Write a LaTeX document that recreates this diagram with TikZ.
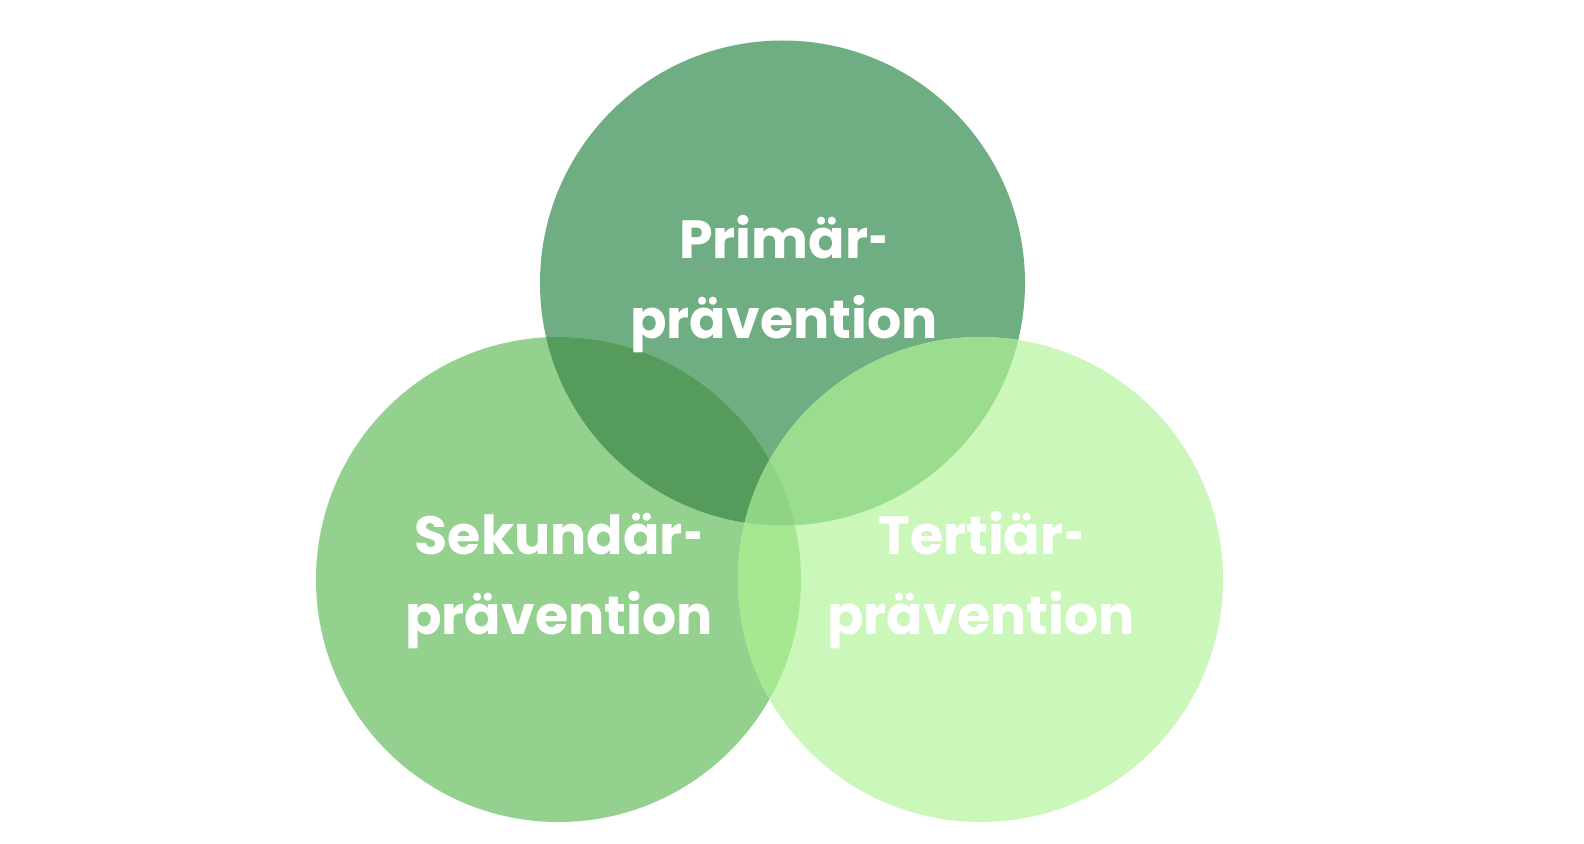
\documentclass[tikz,border=0pt]{standalone}
\usepackage{graphicx}
\usepackage{fontspec}
\setmainfont{Poppins}
\definecolor{cT}{HTML}{6FAD83}
\definecolor{cL}{HTML}{94D18F}
\definecolor{cR}{HTML}{CCF7BB}
\definecolor{cTL}{HTML}{559B5C}
\definecolor{cTR}{HTML}{9ADD8E}
\definecolor{cLR}{HTML}{A6E892}
\definecolor{cTLR}{HTML}{8FD483}
\newcommand{\shy}{\kern0.03em\scalebox{0.6}[1]{-}}
\tikzset{
  lbl/.style={text=white, font=\bfseries\fontsize{54}{80}\selectfont, anchor=base, inner sep=0pt}
}
\begin{document}
\begin{tikzpicture}[x=1bp,y=-1bp]
\useasboundingbox (0,0) rectangle (1584,843);
\fill[white] (0,0) rectangle (1584,843);
\coordinate (T) at (782.5,283);
\coordinate (L) at (558.5,579.5);
\coordinate (R) at (980.5,579.5);
\def\rad{242.5bp}
\fill[cT] (T) circle (\rad);
\fill[cL] (L) circle (\rad);
\fill[cR] (R) circle (\rad);
\begin{scope}
  \clip (T) circle (\rad);
  \fill[cTL] (L) circle (\rad);
  \fill[cTR] (R) circle (\rad);
\end{scope}
\begin{scope}
  \clip (L) circle (\rad);
  \fill[cLR] (R) circle (\rad);
  \clip (R) circle (\rad);
  \fill[cTLR] (T) circle (\rad);
\end{scope}
\node[lbl] (t1) at (784,258) {Primär\shy};
\node[lbl] (t2) at (784,338) {prävention};
\node[lbl] (l1) at (559,554) {Sekundär\shy};
\node[lbl] (l2) at (559,634) {prävention};
\node[lbl] (r1) at (981,554) {Tertiär\shy};
\node[lbl] (r2) at (981,634) {prävention};
\end{tikzpicture}
\end{document}
